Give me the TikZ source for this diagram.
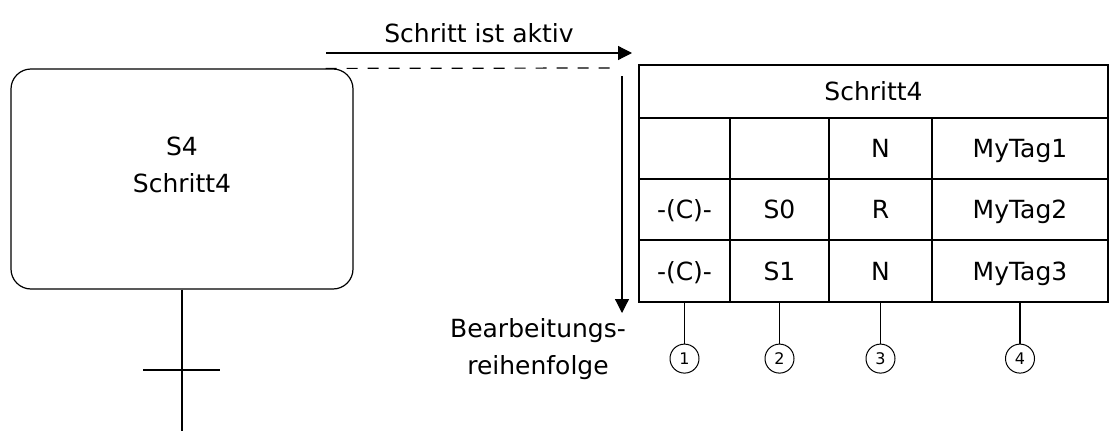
\documentclass[tikz,border=0pt]{standalone}
\usepackage{fontspec}
\setmainfont{DejaVu Sans}
\usetikzlibrary{positioning,arrows.meta}

\begin{document}
\begin{tikzpicture}[x=1pt,y=-1pt,line width=1.2pt,
    every node/.style={font=\fontsize{25}{37}\selectfont},
    cell/.style={draw,rectangle,inner sep=0pt,text height=18pt,text depth=0pt},
    marker/.style={draw,circle,minimum size=29pt,inner sep=0pt,line width=1pt,font=\fontsize{16}{18}\selectfont},
    flow/.style={-{Triangle[length=14pt,width=14pt]}}]

    \useasboundingbox (0,0) rectangle (1114,431);

    % Step S4 with its transition below
    \node[draw, rounded corners=20pt, minimum width=342pt, minimum height=220pt, inner sep=0pt] (step) at (182,179) {};
    \node[align=center] (steptext) at (182,165) {S4\\Schritt4};
    \coordinate (trans) at (182,370);
    \coordinate (stepout) at (182,431);
    \draw (step.south) -- (stepout);
    \draw ([xshift=-39pt]trans) -- ([xshift=38pt]trans);

    % Step is active
    \coordinate (actstart) at (326,53);
    \coordinate (actend) at (632,53);
    \draw[flow] (actstart) -- node[above=6pt] (acttext) {Schritt ist aktiv} (actend);
    \coordinate (dashend) at (615,68);
    \draw[dashed, dash pattern=on 11pt off 10pt] ([xshift=-28pt]step.north east) -- (dashend);

    % Processing order
    \coordinate (ordstart) at (622,76);
    \coordinate (ordend) at (622,313);
    \draw[flow] (ordstart) -- (ordend);
    \node[align=center] (ordtext) at (538,349) {Bearbeitungs-\\reihenfolge};

    % Action table of the step
    \node[cell, minimum width=469pt, minimum height=53pt] (title) at (873.5,91.5) {Schritt4};

    \node[cell, minimum width=91pt, minimum height=61pt] (r1c1) at (684.5,148.5) {};
    \node[cell, minimum width=99pt, minimum height=61pt] (r1c2) at (779.5,148.5) {};
    \node[cell, minimum width=103pt, minimum height=61pt] (r1c3) at (880.5,148.5) {N};
    \node[cell, minimum width=176pt, minimum height=61pt] (r1c4) at (1020,148.5) {MyTag1};

    \node[cell, minimum width=91pt, minimum height=61pt] (r2c1) at (684.5,209.5) {-(C)-};
    \node[cell, minimum width=99pt, minimum height=61pt] (r2c2) at (779.5,209.5) {S0};
    \node[cell, minimum width=103pt, minimum height=61pt] (r2c3) at (880.5,209.5) {R};
    \node[cell, minimum width=176pt, minimum height=61pt] (r2c4) at (1020,209.5) {MyTag2};

    \node[cell, minimum width=91pt, minimum height=62pt] (r3c1) at (684.5,271) {-(C)-};
    \node[cell, minimum width=99pt, minimum height=62pt] (r3c2) at (779.5,271) {S1};
    \node[cell, minimum width=103pt, minimum height=62pt] (r3c3) at (880.5,271) {N};
    \node[cell, minimum width=176pt, minimum height=62pt] (r3c4) at (1020,271) {MyTag3};

    % Column markers
    \foreach \i in {1,...,4} {
        \node[marker, below=41pt of r3c\i] (m\i) {\i};
        \draw (r3c\i.south) -- (m\i.north);
    }
\end{tikzpicture}
\end{document}
